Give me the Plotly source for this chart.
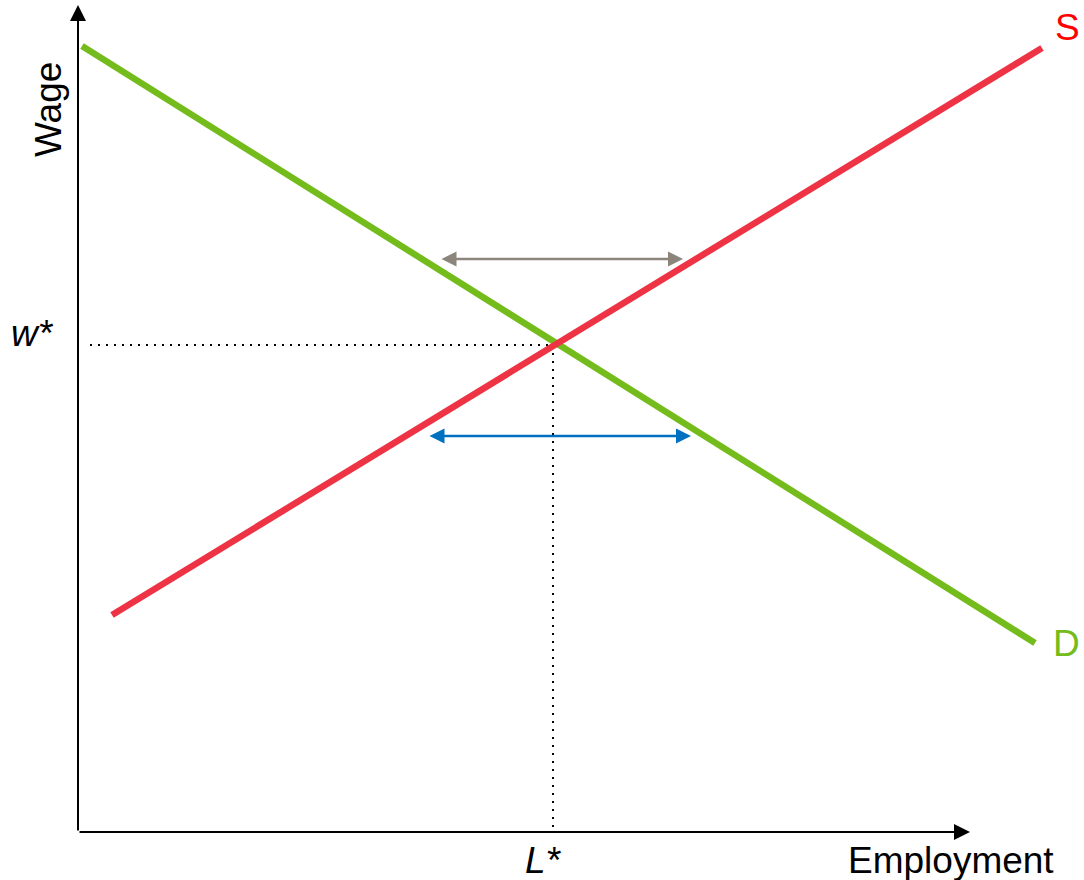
import plotly.graph_objects as go

# Data coordinates (origin at axis corner)
supply_x = [34, 964]
supply_y = [217, 784]
demand_x = [4, 957]
demand_y = [786, 189]
L_star = 475
w_star = 487
x_axis_end = 892
y_axis_end = 827
gray_arrow_x = [362, 605]
gray_arrow_y = 573
blue_arrow_x = [350, 613]
blue_arrow_y = 396

RED = "#ee3344"
GREEN = "#74bb1c"
FONT = "Liberation Sans, Arial, sans-serif"

fig = go.Figure()

# dotted guide lines
fig.add_trace(go.Scatter(x=[12, L_star], y=[w_star, w_star], mode="lines",
                         line=dict(color="black", width=2, dash="2px,6px"), hoverinfo="skip"))
fig.add_trace(go.Scatter(x=[L_star, L_star], y=[w_star, 0], mode="lines",
                         line=dict(color="black", width=2, dash="2px,6px"), hoverinfo="skip"))

# curves
fig.add_trace(go.Scatter(x=demand_x, y=demand_y, mode="lines",
                         line=dict(color=GREEN, width=6.5), hoverinfo="skip"))
fig.add_trace(go.Scatter(x=supply_x, y=supply_y, mode="lines",
                         line=dict(color=RED, width=6.5), hoverinfo="skip"))

ann = []
# axes with arrowheads
ann.append(dict(x=x_axis_end, y=0, ax=0, ay=0, xref="x", yref="y", axref="x", ayref="y",
                text="", showarrow=True, arrowhead=2, arrowsize=1.6, arrowwidth=2, arrowcolor="black"))
ann.append(dict(x=0, y=y_axis_end, ax=0, ay=0, xref="x", yref="y", axref="x", ayref="y",
                text="", showarrow=True, arrowhead=2, arrowsize=1.6, arrowwidth=2, arrowcolor="black"))
# double arrows
ann.append(dict(x=gray_arrow_x[1], y=gray_arrow_y, ax=gray_arrow_x[0], ay=gray_arrow_y,
                xref="x", yref="y", axref="x", ayref="y", text="", showarrow=True,
                arrowhead=2, startarrowhead=2, arrowside="end+start", arrowsize=1.2, startarrowsize=1.2,
                arrowwidth=2.5, arrowcolor="#8c857b"))
ann.append(dict(x=blue_arrow_x[1], y=blue_arrow_y, ax=blue_arrow_x[0], ay=blue_arrow_y,
                xref="x", yref="y", axref="x", ayref="y", text="", showarrow=True,
                arrowhead=2, startarrowhead=2, arrowside="end+start", arrowsize=1.2, startarrowsize=1.2,
                arrowwidth=2.5, arrowcolor="#0070c0"))
# labels
ann.append(dict(x=-30, y=722, xref="x", yref="y", text="Wage", textangle=-90, showarrow=False,
                font=dict(family=FONT, size=37, color="black")))
ann.append(dict(x=-46, y=499, xref="x", yref="y", text="<i>w*</i>", showarrow=False,
                font=dict(family=FONT, size=37, color="black")))
ann.append(dict(x=L_star - 10, y=-28, xref="x", yref="y", text="<i>L*</i>", showarrow=False,
                font=dict(family=FONT, size=37, color="black")))
ann.append(dict(x=873, y=-28, xref="x", yref="y", text="Employment", showarrow=False,
                font=dict(family=FONT, size=37, color="black")))
ann.append(dict(x=989, y=805, xref="x", yref="y", text="S", showarrow=False,
                font=dict(family=FONT, size=37, color="#ff0000")))
ann.append(dict(x=988, y=189, xref="x", yref="y", text="D", showarrow=False,
                font=dict(family=FONT, size=37, color=GREEN)))

fig.update_layout(
    width=1084, height=880, autosize=False,
    margin=dict(l=0, r=0, t=0, b=0),
    paper_bgcolor="white", plot_bgcolor="white",
    showlegend=False,
    xaxis=dict(range=[-78, 1006], visible=False, fixedrange=True),
    yaxis=dict(range=[-48, 832], visible=False, fixedrange=True),
    annotations=ann,
)

# remove the default 8px page margin so the 1084x880 figure fills the window exactly
fig.write_html("out.html", config={"displayModeBar": False},
               post_script="document.body.style.margin='0';document.body.style.overflow='hidden';")
